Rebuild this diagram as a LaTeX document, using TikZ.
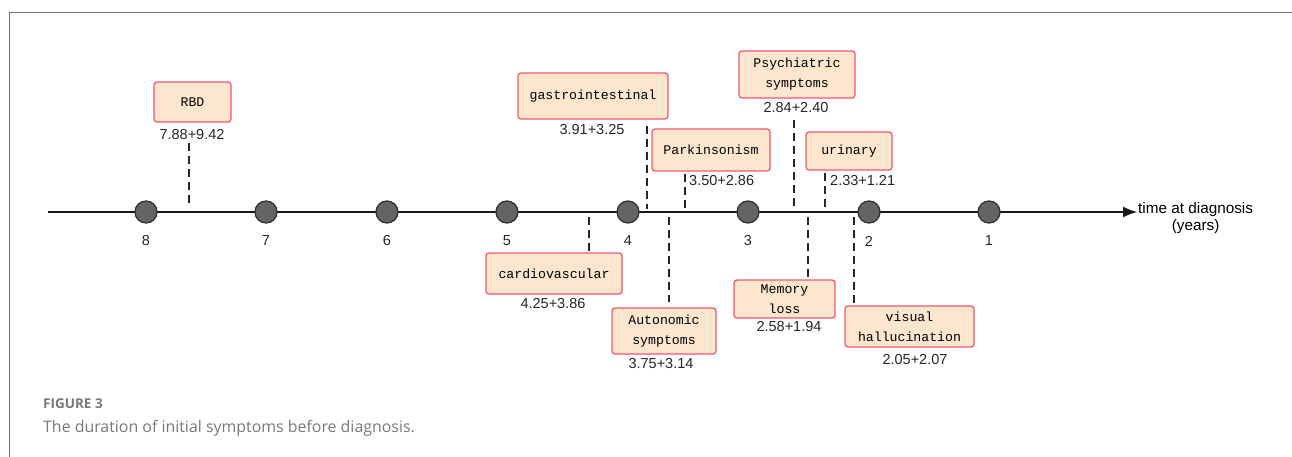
\documentclass[tikz,border=0pt]{standalone}
\usepackage{fontspec}
\setmainfont{Liberation Sans}
\newfontfamily\boxfont{Liberation Mono}
\newfontfamily\capfont{Open Sans}
\usepackage{xcolor}
\usepackage{tikz}
\usetikzlibrary{arrows.meta,calc}
\definecolor{boxfill}{HTML}{FDE6CE}
\definecolor{boxline}{HTML}{F2576F}
\definecolor{dotgray}{HTML}{646464}
\definecolor{capgray}{HTML}{787878}

\begin{document}
\begin{tikzpicture}[x=1pt, y=-1pt, >=Latex, font=\fontsize{14.5}{17}\selectfont,
  symbox/.style={draw=boxline, fill=boxfill, line width=1.3pt, rounded corners=3pt, align=center, inner sep=0pt, font=\boxfont\fontsize{13.2}{20}\selectfont},
  dur/.style={inner sep=1pt, font=\fontsize{14.5}{17}\selectfont, text=black!85},
  leader/.style={dash pattern=on 8pt off 5pt, line width=1.7pt, black!85},
  dot/.style={circle, draw=black!80, fill=dotgray, line width=1.3pt, minimum size=22pt, inner sep=0pt}]
\useasboundingbox (0,0) rectangle (1292,457);
% frame of the figure panel
\draw[black!55, line width=1pt] (9,457) -- (9,13) -- (1292,13);

% time axis
\coordinate (axstart) at (48,212);
\node[anchor=west, align=center, inner sep=0pt, font=\fontsize{15.3}{17}\selectfont] (axlab) at (1138,218.5) {time at diagnosis\\(years)};
\draw[->, line width=2.8pt, black!90, arrows={-Latex[length=15pt, width=11pt]}] (axstart) -- (axstart -| axlab.west);
\foreach \yr/\x in {8/146,7/266,6/387,5/507,4/628,3/748,2/869,1/989} {
  \node[dot] (d\yr) at (\x,212) {};
  \node[text=black!85] (l\yr) at (\x,241) {\yr};
}

% symptoms above the axis
\node[symbox, minimum width=77pt, minimum height=40pt] (rbd) at (192.5,102) {RBD};
\node[dur] (vrbd) at (192,135) {7.88+9.42};
\coordinate (trbd) at (189,207);
\draw[leader] ([yshift=-2pt]vrbd.south -| trbd) -- (trbd);

\node[symbox, minimum width=150pt, minimum height=46pt] (gas) at (593,96) {gastrointestinal};
\node[dur] (vgas) at (592,130) {3.91+3.25};
\coordinate (tgas) at (647,209);
\draw[leader] ([yshift=-6pt]gas.south -| tgas) -- (tgas);

\node[symbox, minimum width=118pt, minimum height=42pt] (park) at (711,150) {Parkinsonism};
\node[dur, anchor=west] (vpark) at (688,181) {3.50+2.86};
\coordinate (tpark) at (685,209);
\draw[leader] ([yshift=-2pt]park.south -| tpark) -- (tpark);

\node[symbox, minimum width=116pt, minimum height=47pt] (psy) at (797,74.5) {Psychiatric\\symptoms};
\node[dur] (vpsy) at (796,108) {2.84+2.40};
\coordinate (tpsy) at (794,209);
\draw[leader] ([yshift=-6pt]vpsy.south -| tpsy) -- (tpsy);

\node[symbox, minimum width=86pt, minimum height=38pt] (uri) at (849,151) {urinary};
\node[dur, anchor=west] (vuri) at (829,181) {2.33+1.21};
\coordinate (turi) at (825,209);
\draw[leader] ([yshift=-2pt]uri.south -| turi) -- (turi);

% symptoms below the axis
\node[symbox, minimum width=136pt, minimum height=41pt] (car) at (554,273.5) {cardiovascular};
\node[dur] (vcar) at (553,304) {4.25+3.86};
\coordinate (tcar) at (589,217);
\draw[leader] (tcar) -- (car.north -| tcar);

\node[symbox, minimum width=104pt, minimum height=46pt] (aut) at (664,331) {Autonomic\\symptoms};
\node[dur] (vaut) at (661,364) {3.75+3.14};
\coordinate (taut) at (669,217);
\draw[leader] (taut) -- ([yshift=5pt]aut.north -| taut);

\node[symbox, minimum width=101pt, minimum height=38pt] (mem) at (784.5,299) {Memory\\loss};
\node[dur] (vmem) at (789,327) {2.58+1.94};
\coordinate (tmem) at (808,217);
\draw[leader] (tmem) -- (mem.north -| tmem);

\node[symbox, minimum width=129pt, minimum height=41pt] (vis) at (909.5,326.5) {visual\\hallucination};
\node[dur] (vvis) at (915,360) {2.05+2.07};
\coordinate (tvis) at (854,217);
\draw[leader] (tvis) -- ([yshift=1pt]vis.north -| tvis);

% caption
\node[anchor=west, inner sep=0pt, text=capgray, font=\capfont\bfseries\fontsize{13.5}{16}\selectfont] (figno) at (43,404) {FIGURE 3};
\node[anchor=west, inner sep=0pt, text=capgray, font=\capfont\fontsize{15.9}{19}\selectfont] (capt) at (43,428) {The duration of initial symptoms before diagnosis.};
\end{tikzpicture}
\end{document}
